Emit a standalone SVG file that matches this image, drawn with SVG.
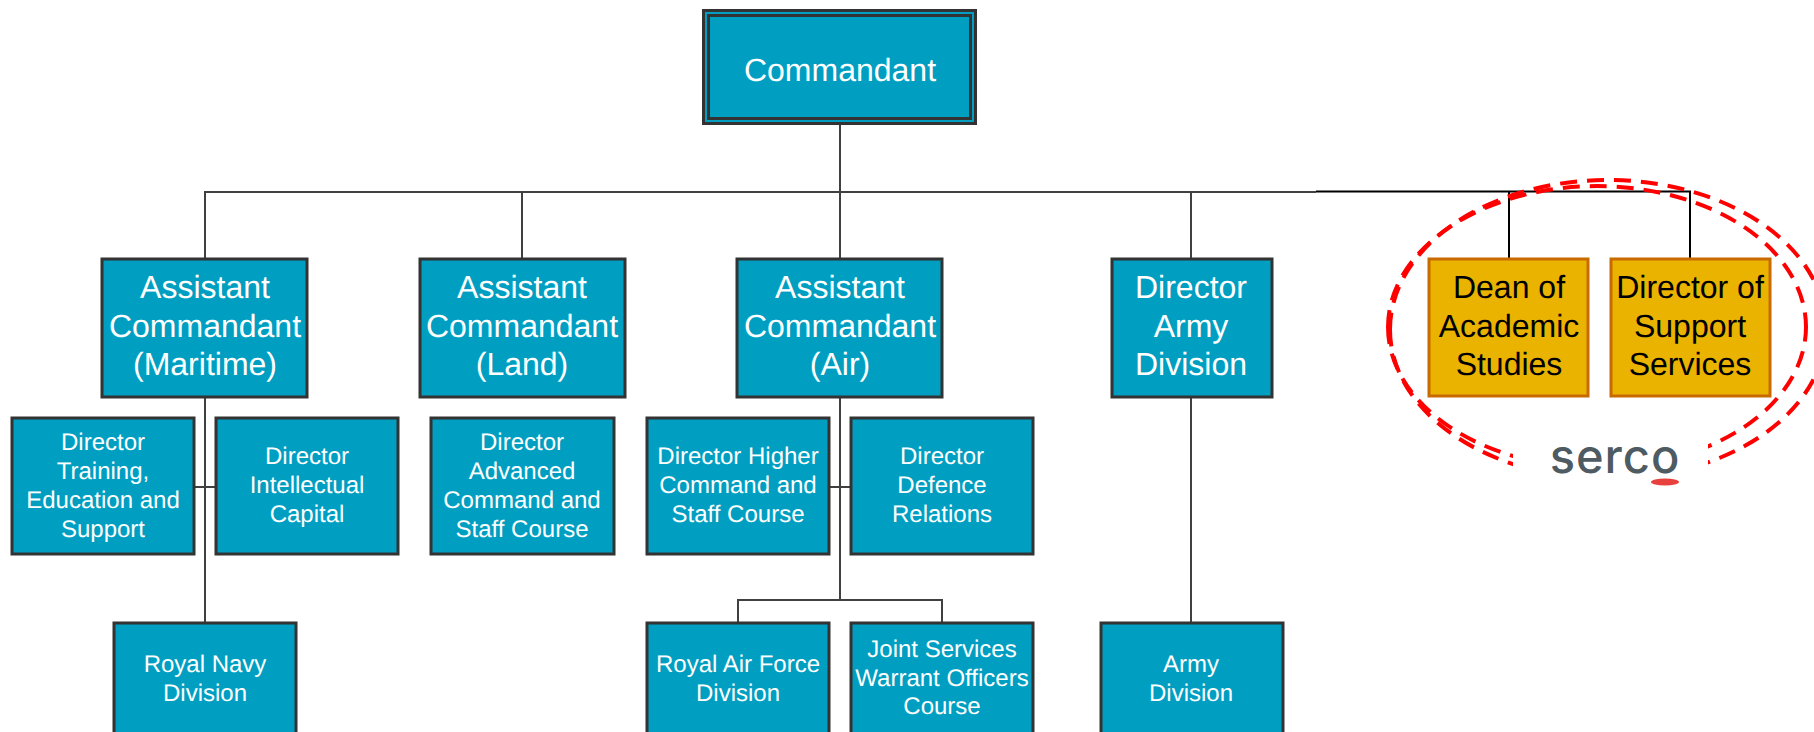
<svg xmlns="http://www.w3.org/2000/svg" width="1814" height="732" viewBox="0 0 1814 732">
<style>
.b{fill:#009fc2;stroke:#333;stroke-width:3}
.o{fill:#e9b300;stroke:#c96a00;stroke-width:3}
text{font-family:"Liberation Sans",Arial,sans-serif;text-anchor:middle;text-rendering:geometricPrecision}
.l{font-size:32px;fill:#fff}
.s{font-size:24px;fill:#fff}
.k{font-size:32px;fill:#000}
.c{fill:none;stroke:#404040;stroke-width:2}
.d{fill:none;stroke:#000;stroke-width:2}
.e{fill:none;stroke:#f00;stroke-width:4;stroke-dasharray:17 10}
</style>
<g id="connectors">
<path class="c" d="M840 124V600M205 259V192H1316M522 192V259M1191 192V259M205 397V622M194 487H216M829 487H851M738 622V600H942V622M1191 397V622"/>
<path class="d" d="M1316 191.500H1690V259M1509 191.500V259"/>
</g>
<g id="highlight">
<path class="e" d="M1388 327A209 141 0 0 1 1806 327M1388 327A209 141 0 0 0 1806 327"/>
<path class="e" d="M1390 329.500A218 149.500 0 0 1 1826 329.500M1390 329.500A218 149.500 0 0 0 1826 329.500"/>
<rect x="1513" y="440" width="195" height="60" fill="#fff"/>
</g>
<g id="commandant">
<rect x="703.500" y="10.500" width="272" height="113" fill="#009fc2" stroke="#333" stroke-width="3"/>
<rect x="708.500" y="15.500" width="262" height="103" class="b"/>
<text class="l" x="840" y="81">Commandant</text>
</g>
<g id="ac-maritime"><rect class="b" x="102" y="259" width="205" height="138"/><text class="l" x="205" y="298">Assistant</text><text class="l" x="205" y="336.500">Commandant</text><text class="l" x="205" y="375">(Maritime)</text></g>
<g id="ac-land"><rect class="b" x="420" y="259" width="205" height="138"/><text class="l" x="522" y="298">Assistant</text><text class="l" x="522" y="336.500">Commandant</text><text class="l" x="522" y="375">(Land)</text></g>
<g id="ac-air"><rect class="b" x="737" y="259" width="205" height="138"/><text class="l" x="840" y="298">Assistant</text><text class="l" x="840" y="336.500">Commandant</text><text class="l" x="840" y="375">(Air)</text></g>
<g id="director-army"><rect class="b" x="1112" y="259" width="160" height="138"/><text class="l" x="1191" y="298">Director</text><text class="l" x="1191" y="336.500">Army</text><text class="l" x="1191" y="375">Division</text></g>
<g id="dean"><rect class="o" x="1429" y="259" width="159" height="137"/><text class="k" x="1509" y="298">Dean of</text><text class="k" x="1509" y="336.500">Academic</text><text class="k" x="1509" y="375">Studies</text></g>
<g id="director-support"><rect class="o" x="1611" y="259" width="159" height="137"/><text class="k" x="1690" y="298">Director of</text><text class="k" x="1690" y="336.500">Support</text><text class="k" x="1690" y="375">Services</text></g>
<g id="dir-training"><rect class="b" x="12" y="418" width="182" height="136"/><text class="s" x="103" y="450">Director</text><text class="s" x="103" y="479">Training,</text><text class="s" x="103" y="507.700">Education and</text><text class="s" x="103" y="536.500">Support</text></g>
<g id="dir-intellectual"><rect class="b" x="216" y="418" width="182" height="136"/><text class="s" x="307" y="464.300">Director</text><text class="s" x="307" y="493">Intellectual</text><text class="s" x="307" y="522">Capital</text></g>
<g id="dir-advanced"><rect class="b" x="431" y="418" width="183" height="136"/><text class="s" x="522" y="450">Director</text><text class="s" x="522" y="479">Advanced</text><text class="s" x="522" y="507.700">Command and</text><text class="s" x="522" y="536.500">Staff Course</text></g>
<g id="dir-higher"><rect class="b" x="647" y="418" width="182" height="136"/><text class="s" x="738" y="464.300">Director Higher</text><text class="s" x="738" y="493">Command and</text><text class="s" x="738" y="522">Staff Course</text></g>
<g id="dir-defence"><rect class="b" x="851" y="418" width="182" height="136"/><text class="s" x="942" y="464.300">Director</text><text class="s" x="942" y="493">Defence</text><text class="s" x="942" y="522">Relations</text></g>
<g id="royal-navy"><rect class="b" x="114" y="623" width="182" height="120"/><text class="s" x="205" y="671.700">Royal Navy</text><text class="s" x="205" y="700.500">Division</text></g>
<g id="raf"><rect class="b" x="647" y="623" width="182" height="120"/><text class="s" x="738" y="671.700">Royal Air Force</text><text class="s" x="738" y="700.500">Division</text></g>
<g id="joint"><rect class="b" x="851" y="623" width="182" height="120"/><text class="s" x="942" y="656.700">Joint Services</text><text class="s" x="942" y="685.500">Warrant Officers</text><text class="s" x="942" y="714.300">Course</text></g>
<g id="army-division"><rect class="b" x="1101" y="623" width="182" height="120"/><text class="s" x="1191" y="671.700">Army</text><text class="s" x="1191" y="700.500">Division</text></g>
<g id="serco"><text x="1615" y="473" font-size="47" letter-spacing="1" fill="#4f5b63" style="font-family:Inter,sans-serif;font-weight:500">serco</text><ellipse cx="1665" cy="482" rx="14" ry="3.500" fill="#e8403c"/></g>
</svg>
